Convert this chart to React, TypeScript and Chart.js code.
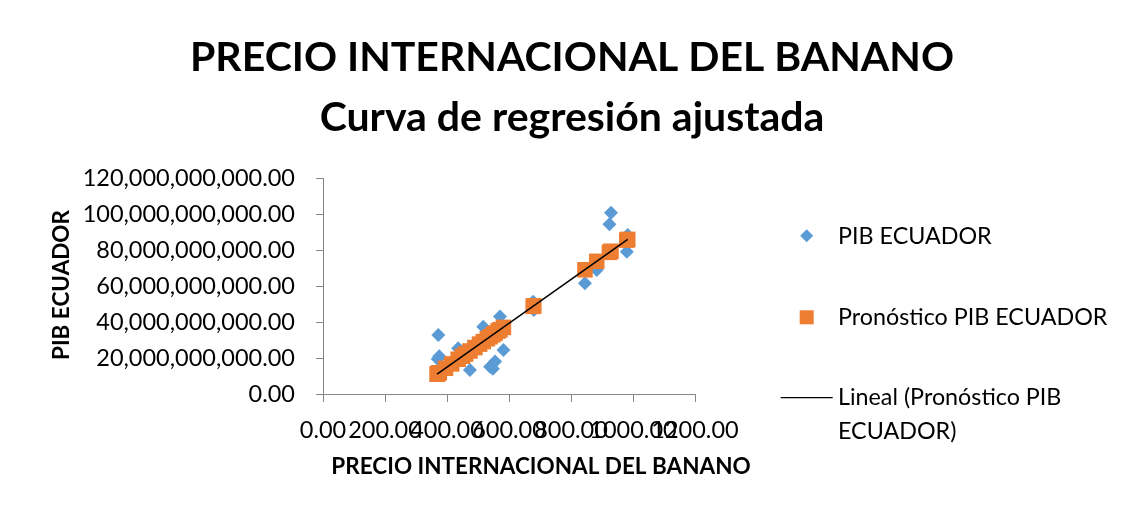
import { useEffect, useRef } from "react";
import { Chart, registerables } from "chart.js";

Chart.register(...registerables);

// ---- Data ----
const precio = [368, 370, 372, 375, 395, 415, 436, 450, 460, 474, 490, 505, 517, 530, 539, 548, 555, 565, 571, 582, 678, 680, 845, 883, 924, 929, 980, 983];
const pibEcuador = [12.0e9, 19.5e9, 32.8e9, 21.0e9, 14.0e9, 17.0e9, 25.4e9, 20.0e9, 22.0e9, 13.3e9, 24.0e9, 28.0e9, 37.4e9, 33.0e9, 15.2e9, 14.0e9, 18.0e9, 36.0e9, 43.0e9, 24.4e9, 51.3e9, 46.7e9, 61.5e9, 68.9e9, 94.3e9, 100.7e9, 79.0e9, 88.3e9];
const pronosticoPib = [11.0e9, 11.3e9, 11.5e9, 11.8e9, 14.3e9, 16.7e9, 19.3e9, 21.0e9, 22.2e9, 23.9e9, 25.8e9, 27.7e9, 29.1e9, 30.7e9, 31.8e9, 32.9e9, 33.8e9, 35.0e9, 35.7e9, 37.0e9, 48.7e9, 49.0e9, 69.0e9, 73.7e9, 78.7e9, 79.3e9, 85.5e9, 85.9e9];
const lineaX = [368, 983];
const lineaY = [11.0e9, 85.9e9];

const titleLines = ["PRECIO INTERNACIONAL DEL BANANO", "Curva de regresión ajustada"];
const xTitle = "PRECIO INTERNACIONAL DEL BANANO";
const yTitle = "PIB ECUADOR";
const legendLabels = ["PIB ECUADOR", "Pronóstico PIB ECUADOR", "Lineal (Pronóstico PIB", "ECUADOR)"];

const BLUE = "#5B9BD5";
const ORANGE = "#ED7D31";
const AXIS = "#868686";
const FONT = "Lato";

const fmtY = (v: number) =>
  Number(v).toLocaleString("en-US", { minimumFractionDigits: 2, maximumFractionDigits: 2 });
const fmtX = (v: number) => Number(v).toFixed(2);

const overlay = {
  id: "overlay",
  afterDraw(chart: any) {
    const ctx = chart.ctx as CanvasRenderingContext2D;
    ctx.save();
    ctx.fillStyle = "#000";
    ctx.textAlign = "center";
    ctx.textBaseline = "middle";
    ctx.font = `bold 41px ${FONT}`;
    ctx.fillText(titleLines[0], 564, 50);
    ctx.fillText(titleLines[1], 564, 110);

    ctx.font = `bold 22.5px ${FONT}`;
    ctx.fillText(xTitle, 533, 459);

    ctx.save();
    ctx.translate(54, 277);
    ctx.rotate(-Math.PI / 2);
    ctx.fillText(yTitle, 0, 0);
    ctx.restore();

    // legend
    ctx.font = `23.3px ${FONT}`;
    ctx.textAlign = "left";
    const tx = 830;
    ctx.fillStyle = BLUE;
    ctx.beginPath();
    const dx = 798.7, dy = 227.7, r = 6.5;
    ctx.moveTo(dx - r, dy);
    ctx.lineTo(dx, dy - r);
    ctx.lineTo(dx + r, dy);
    ctx.lineTo(dx, dy + r);
    ctx.closePath();
    ctx.fill();
    ctx.fillStyle = ORANGE;
    ctx.fillRect(798.7 - 7, 309.3 - 7, 14, 14);
    ctx.strokeStyle = "#000";
    ctx.lineWidth = 1.2;
    ctx.beginPath();
    ctx.moveTo(772.7, 389.7);
    ctx.lineTo(824.7, 389.7);
    ctx.stroke();

    ctx.fillStyle = "#000";
    ctx.fillText(legendLabels[0], tx, 228);
    ctx.fillText(legendLabels[1], tx, 309);
    ctx.fillText(legendLabels[2], tx, 389);
    ctx.fillText(legendLabels[3], tx, 423);
    ctx.restore();
  },
};

export default function App() {
  const ref = useRef<HTMLCanvasElement>(null);
  useEffect(() => {
    if (!ref.current) return;
    const chart = new Chart(ref.current, {
      type: "scatter",
      data: {
        datasets: [
          {
            type: "line" as any,
            label: "Lineal (Pronóstico PIB ECUADOR)",
            data: lineaX.map((x, i) => ({ x, y: lineaY[i] })),
            borderColor: "#000",
            borderWidth: 1.5,
            pointRadius: 0,
            fill: false,
            order: 0,
          },
          {
            label: "Pronóstico PIB ECUADOR",
            data: precio.map((x, i) => ({ x, y: pronosticoPib[i] })),
            backgroundColor: ORANGE,
            borderColor: ORANGE,
            borderWidth: 0,
            pointStyle: "rect",
            pointRadius: 11,
            order: 1,
          },
          {
            label: "PIB ECUADOR",
            data: precio.map((x, i) => ({ x, y: pibEcuador[i] })),
            backgroundColor: BLUE,
            borderColor: BLUE,
            borderWidth: 0,
            pointStyle: "rectRot",
            pointRadius: 7,
            order: 2,
          },
        ],
      },
      options: {
        animation: false,
        responsive: false,
        layout: { padding: { top: 170, right: 443, bottom: 0, left: 0 } },
        plugins: { legend: { display: false }, tooltip: { enabled: false }, title: { display: false } },
        scales: {
          x: {
            type: "linear",
            min: 0,
            max: 1200,
            ticks: {
              stepSize: 200,
              autoSkip: false,
              maxRotation: 0,
              minRotation: 0,
              color: "#000",
              font: { family: FONT, size: 23.5 },
              padding: 14,
              callback: (v: any) => fmtX(v),
            },
            grid: { drawOnChartArea: false, drawTicks: true, tickLength: 8, color: AXIS },
            border: { display: true, color: AXIS, width: 1 },
            afterFit: (s: any) => { s.height = 124; },
          },
          y: {
            type: "linear",
            min: 0,
            max: 120e9,
            ticks: {
              stepSize: 20e9,
              color: "#000",
              font: { family: FONT, size: 23.5 },
              padding: 21,
              callback: (v: any) => fmtY(v),
            },
            grid: { drawOnChartArea: false, drawTicks: true, tickLength: 7, color: AXIS },
            border: { display: true, color: AXIS, width: 1 },
            afterFit: (s: any) => { s.width = 315; },
          },
        },
      } as any,
      plugins: [overlay],
    });
    return () => chart.destroy();
  }, []);

  return (
    <div
      style={{
        position: "relative",
        width: 1130,
        height: 510,
        marginLeft: -1,
        marginTop: -1,
        border: `1px solid ${AXIS}`,
        background: "#fff",
      }}
    >
      <canvas ref={ref} width={1130} height={510} style={{ display: "block" }} />
    </div>
  );
}
